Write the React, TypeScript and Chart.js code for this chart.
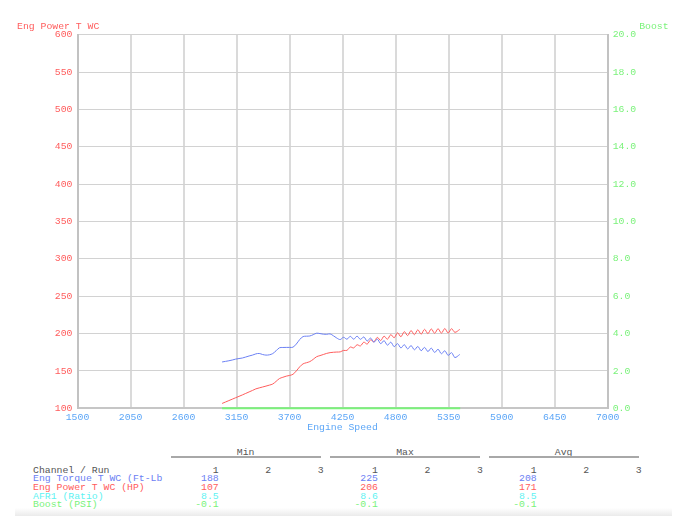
import React, { useEffect, useRef } from 'react';
import { Chart, registerables } from 'chart.js';

Chart.register(...registerables);

// ---------- data ----------
const rpm = [
  3000, 3035, 3070, 3105, 3140, 3175, 3210, 3245, 3280, 3315, 3350, 3385, 3420, 3455, 3490,
  3525, 3560, 3595, 3630, 3665, 3700, 3735, 3770, 3805, 3840, 3875, 3910, 3945, 3980, 4015,
  4050, 4085, 4120, 4155, 4190, 4225, 4260, 4295, 4330, 4365, 4400, 4435, 4470, 4505, 4540,
  4575, 4610, 4645, 4680, 4715, 4750, 4785, 4820, 4855, 4890, 4925, 4960, 4995, 5030, 5065,
  5100, 5135, 5170, 5205, 5240, 5275, 5310, 5345, 5380, 5415, 5465,
];

const torque = [
  162, 162.8, 163.6, 164.6, 165.8, 166.6, 167.3, 168.6, 170, 171.2, 172.8, 173.4, 172, 171.2, 171.6,
  173.2, 177, 181, 181.4, 181.5, 181.5, 181.8, 186, 192, 196, 196.5, 196.8, 198.5, 200.5, 200,
  199.2, 199, 199.6, 197, 194, 192, 195, 192.5, 196.3, 192.5, 196.5, 192.3, 195.5, 190, 194,
  188.5, 192.5, 186.5, 190.5, 184.5, 188.5, 182.5, 186.5, 180.8, 185.1, 179.5, 183.9, 178.3, 182.7, 177.1,
  181.5, 176, 180.5, 174.8, 179, 173, 177, 170.8, 174.5, 168, 172,
];

const power = [
  106.5, 108.4, 110.3, 112.2, 114.1, 116, 117.9, 119.9, 121.9, 123.9, 126, 127.3, 128.5, 129.7, 131,
  132.5, 136, 139.8, 141.5, 143, 144, 145.5, 150, 155.5, 159.5, 161, 162.5, 165.5, 169, 170.5,
  172, 173.5, 174.5, 175, 175.3, 175.5, 177.5, 177.5, 182, 180.8, 185, 183.5, 188.5, 186, 191.5,
  189, 194.9, 190.7, 196.5, 192.5, 198.5, 194.5, 201, 195.8, 202.6, 197.3, 204, 198.5, 205, 199.3,
  205.7, 200, 206.2, 200.4, 206.5, 200.6, 206.7, 200.8, 206.5, 201.7, 205.5,
];

const boostRpm = [3000, 3600, 4200, 4800, 5470];
const boost = [0, 0, 0, 0, 0];

const xTicks = [1500, 2050, 2600, 3150, 3700, 4250, 4800, 5350, 5900, 6450, 7000];
const leftMin = 100;
const leftMax = 600;
const leftStep = 50;
const rightMin = 0;
const rightMax = 20;
const rightStep = 2;

const leftTitle = 'Eng Power T WC';
const rightTitle = 'Boost';
const xTitle = 'Engine Speed';

const groups = ['Min', 'Max', 'Avg'];
const runs = ['1', '2', '3'];
const headerLabel = 'Channel / Run';
const channels = ['Eng Torque T WC (Ft-Lb', 'Eng Power T WC (HP)', 'AFR1 (Ratio)', 'Boost (PSI)'];
const minRun1 = ['188', '107', '8.5', '-0.1'];
const maxRun1 = ['225', '206', '8.6', '-0.1'];
const avgRun1 = ['208', '171', '8.5', '-0.1'];

// ---------- styles ----------
const FONT = '"Liberation Mono", "Courier New", monospace';
const FSIZE = 9.8;
const BLUE = '#6b80f4';
const RED = '#ff5c5c';
const CYAN = '#5ef2f2';
const GREEN = '#7af27a';
const XBLUE = '#5ca6f7';
const GRAY_TXT = '#555555';
const channelColors = [BLUE, RED, CYAN, GREEN];

const axisTitlesPlugin = {
  id: 'axisTitles',
  afterDraw(chart: any) {
    const { ctx, chartArea } = chart;
    ctx.save();
    ctx.font = `${FSIZE}px ${FONT}`;
    ctx.textBaseline = 'middle';
    ctx.textAlign = 'left';
    ctx.fillStyle = RED;
    ctx.fillText(leftTitle, chartArea.left - 60.5, chartArea.top - 8.5);
    ctx.fillStyle = GREEN;
    ctx.fillText(rightTitle, chartArea.right + 31.5, chartArea.top - 8.5);
    ctx.restore();
  },
};

function DynoChart() {
  const ref = useRef<HTMLCanvasElement | null>(null);
  useEffect(() => {
    if (!ref.current) return;
    const font = { family: FONT, size: FSIZE };
    const chart = new Chart(ref.current, {
      type: 'line',
      data: {
        datasets: [
          {
            label: 'Eng Torque T WC',
            data: rpm.map((r, i) => ({ x: r, y: torque[i] })),
            borderColor: BLUE,
            borderWidth: 1,
            pointRadius: 0,
            tension: 0.35,
            yAxisID: 'y',
          },
          {
            label: 'Eng Power T WC',
            data: rpm.map((r, i) => ({ x: r, y: power[i] })),
            borderColor: RED,
            borderWidth: 1,
            pointRadius: 0,
            tension: 0.35,
            yAxisID: 'y',
          },
          {
            label: 'Boost',
            data: boostRpm.map((r, i) => ({ x: r, y: boost[i] })),
            borderColor: GREEN,
            borderWidth: 2,
            pointRadius: 0,
            yAxisID: 'y1',
            clip: false,
          },
        ],
      },
      options: {
        responsive: false,
        animation: false,
        layout: { padding: { top: 34.7, left: 0, right: 0, bottom: 0 } },
        plugins: { legend: { display: false }, tooltip: { enabled: false } },
        scales: {
          x: {
            type: 'linear',
            min: xTicks[0],
            max: xTicks[xTicks.length - 1],
            afterBuildTicks: (s: any) => {
              s.ticks = xTicks.map((v) => ({ value: v }));
            },
            afterFit: (s: any) => {
              s.height = 24.7;
            },
            grid: { color: '#dadada', lineWidth: 2, drawTicks: false },
            border: { color: '#c6c6c6', width: 2 },
            ticks: {
              color: XBLUE,
              font,
              padding: 3,
              maxRotation: 0,
              autoSkip: false,
              callback: (v: any) => String(v),
            },
            title: { display: true, text: xTitle, color: XBLUE, font, padding: 0 },
          },
          y: {
            position: 'left',
            min: leftMin,
            max: leftMax,
            ticks: { stepSize: leftStep, color: RED, font, padding: 5, callback: (v: any) => String(v) },
            grid: { color: '#d2d2d2', lineWidth: 1, drawTicks: false },
            border: { color: '#c2c2c2', width: 2 },
            afterFit: (s: any) => {
              s.width = 77.5;
            },
          },
          y1: {
            position: 'right',
            min: rightMin,
            max: rightMax,
            ticks: {
              stepSize: rightStep,
              color: GREEN,
              font,
              padding: 5,
              callback: (v: any) => Number(v).toFixed(1),
            },
            grid: { display: false, drawTicks: false },
            border: { color: '#c2c2c2', width: 2 },
            afterFit: (s: any) => {
              s.width = 80.3;
            },
          },
        },
      } as any,
      plugins: [axisTitlesPlugin],
    });
    return () => chart.destroy();
  }, []);
  return (
    <canvas
      ref={ref}
      width={688}
      height={433}
      style={{ position: 'absolute', left: 0, top: 0, width: 688, height: 433 }}
    />
  );
}

const groupLeft = [170.7, 330, 488.7];
const groupWidth = 150;
const rowTop0 = 465.7;
const rowStep = 8.65;

function Txt(props: { x: number; y: number; color: string; text: string; align?: 'left' | 'right' | 'center'; w?: number }) {
  const { x, y, color, text, align = 'left', w = 0 } = props;
  const style: React.CSSProperties = {
    position: 'absolute',
    top: y,
    fontFamily: FONT,
    fontSize: FSIZE,
    lineHeight: '10px',
    color,
    whiteSpace: 'pre',
  };
  if (align === 'left') style.left = x;
  else if (align === 'right') style.right = 688 - x;
  else {
    style.left = x;
    style.width = w;
    style.textAlign = 'center';
  }
  return <div style={style}>{text}</div>;
}

function StatsTable() {
  const stats = [minRun1, maxRun1, avgRun1];
  const items: React.ReactNode[] = [];
  groups.forEach((g, gi) => {
    const gl = groupLeft[gi];
    items.push(<Txt key={'g' + gi} x={gl} y={448} w={groupWidth} align="center" color={GRAY_TXT} text={g} />);
    items.push(
      <div
        key={'l' + gi}
        style={{ position: 'absolute', left: gl, top: 456, width: groupWidth, height: 1.5, background: '#a8a8a8' }}
      />
    );
    runs.forEach((r, ri) => {
      items.push(
        <Txt key={'r' + gi + ri} x={gl + 48 + 52.5 * ri} y={rowTop0} align="right" color={GRAY_TXT} text={r} />
      );
    });
    stats[gi].forEach((v, ci) => {
      items.push(
        <Txt
          key={'v' + gi + ci}
          x={gl + 48}
          y={rowTop0 + rowStep * (ci + 1)}
          align="right"
          color={channelColors[ci]}
          text={v}
        />
      );
    });
  });
  items.push(<Txt key="hdr" x={33} y={rowTop0} color={GRAY_TXT} text={headerLabel} />);
  channels.forEach((c, ci) => {
    items.push(<Txt key={'c' + ci} x={33} y={rowTop0 + rowStep * (ci + 1)} color={channelColors[ci]} text={c} />);
  });
  return <>{items}</>;
}

export default function App() {
  return (
    <div
      style={{
        position: 'fixed',
        left: 0,
        top: 0,
        width: 688,
        height: 516,
        background: '#ffffff',
        overflow: 'hidden',
      }}
    >
      <div
        style={{
          position: 'absolute',
          left: 15,
          top: 508,
          width: 657,
          height: 8,
          background: 'linear-gradient(#ffffff, #ebebeb)',
        }}
      />
      <DynoChart />
      <StatsTable />
    </div>
  );
}
